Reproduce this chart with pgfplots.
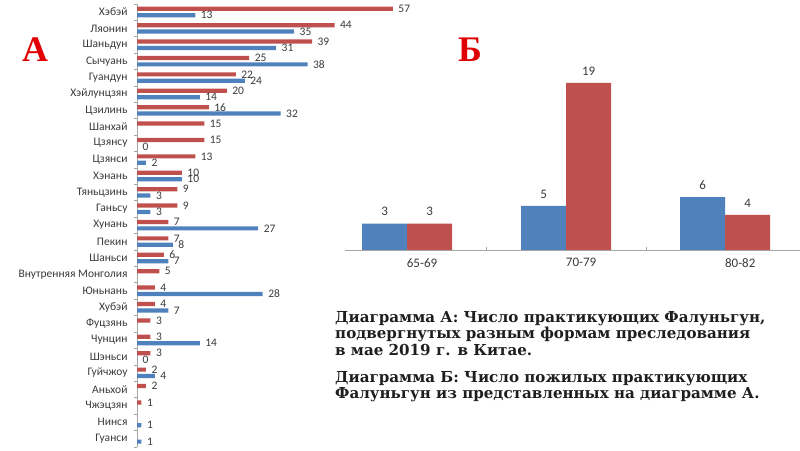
\documentclass[border=0pt]{standalone}
\usepackage{pgfplots}
\pgfplotsset{compat=1.18}
\usepackage{fontspec}
\setmainfont{Carlito}
\newfontfamily\capfont{DejaVu Serif}
\newfontfamily\letterfont{Liberation Serif}
\definecolor{barred}{HTML}{C0504D}
\definecolor{barblue}{HTML}{4F81BD}
\definecolor{labgray}{HTML}{3A3A3A}
\definecolor{axgray}{HTML}{A6A6A6}
\definecolor{captext}{HTML}{1E1E1E}

\begin{document}
\begin{tikzpicture}[x=1pt,y=1pt]
\path[use as bounding box] (0,0) rectangle (800,450);

% Diagram A
\begin{axis}[at={(137pt,3.4pt)}, anchor=south west, scale only axis,
  width=269.4pt, height=442.8pt,
  xmin=0, xmax=60, ymin=-0.5, ymax=26.5,
  xbar, bar width=4.2pt,
  axis x line=none, axis y line*=left,
  y axis line style={axgray},
  ytick={0,...,26},
  yticklabels={Гуанси,Нинся,Чжэцзян,Аньхой,Гуйчжоу,Шэньси,Чунцин,Фуцзянь,Хубэй,Юньнань,Внутренняя Монголия,Шаньси,Пекин,Хунань,Ганьсу,Тяньцзинь,Хэнань,Цзянси,Цзянсу,Шанхай,Цзилинь,Хэйлунцзян,Гуандун,Сычуань,Шаньдун,Ляонин,Хэбэй},
  minor ytick={-0.5,0.5,...,26.5},
  major tick length=0pt, minor tick length=3pt, tick align=outside,
  tick style={axgray},
  yticklabel style={font=\fontsize{11.5}{12}\selectfont, text=labgray, xshift=-6pt},
  nodes near coords,
  every node near coord/.append style={font=\fontsize{11.5}{12}\selectfont, text=labgray, xshift=2pt},
  /pgf/number format/assume math mode=true,
  clip=false]
\addplot[draw=none, fill=barred, bar shift=3.2pt] coordinates {
(57,26) (44,25) (39,24) (25,23) (22,22) (20,21) (16,20) (15,19) (15,18) (13,17) (10,16) (9,15) (9,14) (7,13) (7,12) (6,11) (5,10) (4,9) (4,8) (3,7) (3,6) (3,5) (2,4) (2,3) (1,2)};
\addplot[draw=none, fill=barblue, bar shift=-3.2pt] coordinates {
(13,26) (35,25) (31,24) (38,23) (24,22) (14,21) (32,20) (0,18) (2,17) (10,16) (3,15) (3,14) (27,13) (8,12) (7,11) (28,9) (7,8) (14,6) (0,5) (4,4) (1,1) (1,0)};
\end{axis}

% Diagram B
\begin{axis}[at={(345pt,200pt)}, anchor=south west, scale only axis,
  width=455pt, height=176pt,
  xmin=-0.39, xmax=2.47, ymin=0, ymax=20,
  ybar, bar width=45pt,
  axis y line=none, axis x line*=bottom,
  x axis line style={axgray, line width=0.8pt},
  xtick={0,1,2}, xticklabels={65-69,70-79,80-82},
  minor xtick={0.5,1.5},
  major tick length=0pt, minor tick length=3pt, tick align=inside,
  tick style={axgray},
  xticklabel style={font=\fontsize{13}{14}\selectfont, text=labgray, xshift=15pt, yshift=-5pt},
  nodes near coords,
  every node near coord/.append style={font=\fontsize{13}{14}\selectfont, text=labgray, yshift=4pt},
  /pgf/number format/assume math mode=true,
  clip=false]
\addplot[draw=none, fill=barblue, bar shift=-22.5pt] coordinates {(0,3) (1,5) (2,6)};
\addplot[draw=none, fill=barred, bar shift=22.5pt] coordinates {(0,3) (1,19) (2,4)};
\end{axis}

% panel letters
\node[anchor=base west, inner sep=0pt, text={rgb,255:red,225;green,0;blue,0}] at (22,388)
  {\letterfont\bfseries\fontsize{36}{40}\selectfont А};
\node[anchor=base west, inner sep=0pt, text={rgb,255:red,225;green,0;blue,0}] at (458,388)
  {\letterfont\bfseries\fontsize{36}{40}\selectfont Б};

% caption
\begin{scope}[every node/.style={anchor=base west, inner sep=0pt, text=captext,
    font=\capfont\bfseries\fontsize{15.1}{16}\selectfont}]
\node at (335,128) {Диаграмма А: Число практикующих Фалуньгун,};
\node at (335,111.5) {подвергнутых разным формам преследования};
\node at (335,95) {в мае 2019 г. в Китае.};
\node at (335,68) {Диаграмма Б: Число пожилых практикующих};
\node at (335,51.5) {Фалуньгун из представленных на диаграмме А.};
\end{scope}
\end{tikzpicture}
\end{document}
